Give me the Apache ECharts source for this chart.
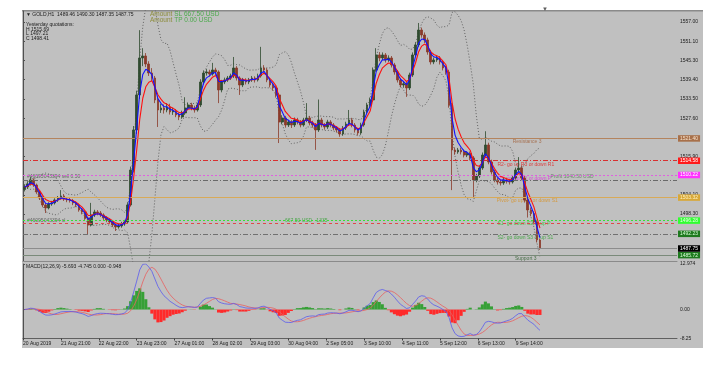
<!DOCTYPE html>
<html><head><meta charset="utf-8">
<script src="https://cdn.jsdelivr.net/npm/echarts@6/dist/echarts.min.js"></script>
<style>html,body{margin:0;padding:0;background:#fff;}#c{width:717px;height:369px;}</style>
</head><body><div id="c"></div>
<script>
// ---------- DATA ----------
const dateLabels = ['20 Aug 2019','21 Aug 21:00','22 Aug 22:00','23 Aug 23:00','27 Aug 01:00','28 Aug 02:00','29 Aug 03:00','30 Aug 04:00','2 Sep 05:00','3 Sep 10:00','4 Sep 11:00','5 Sep 12:00','6 Sep 13:00','9 Sep 14:00'];
const dateTickHours = [0,25,50,75,100,125,150,175,200,225,250,275,300,325];
const priceTicks = [1557.00,1551.10,1545.30,1539.40,1533.50,1527.60,1515.90,1504.10,1498.30];
const macdTicks = [12.974,0,-8.25];
const macdTickLabels = ['12.974','0.00','-8.25'];
// candles, one per 2 hours: [open, close, low, high]
const ohlc = [
[1505.80,1506.56,1505.20,1507.40],[1506.56,1507.48,1506.00,1508.30],[1507.48,1508.70,1507.00,1509.60],[1508.70,1507.17,1506.60,1509.20],
[1507.17,1505.03,1504.50,1507.60],[1505.03,1503.20,1502.60,1505.50],[1503.20,1501.06,1500.40,1503.70],[1501.06,1500.14,1498.60,1501.60],
[1500.14,1501.36,1499.70,1501.90],[1501.36,1501.67,1500.80,1502.30],[1501.67,1502.59,1501.20,1503.10],[1502.59,1503.20,1502.00,1503.80],
[1503.20,1503.81,1502.70,1505.60],[1503.81,1502.89,1502.30,1504.40],[1502.89,1502.59,1501.90,1503.50],[1502.59,1502.40,1501.80,1503.20],
[1502.40,1501.67,1501.00,1502.90],[1501.67,1501.06,1500.40,1502.20],[1501.06,1499.53,1499.00,1501.50],[1499.53,1498.92,1498.20,1500.10],
[1498.92,1497.08,1496.50,1499.40],[1497.08,1494.94,1491.90,1497.50],[1494.94,1498.00,1494.50,1501.70],[1498.00,1498.92,1497.40,1499.60],
[1498.92,1498.61,1497.90,1499.50],[1498.61,1498.00,1497.40,1499.20],[1498.00,1497.08,1496.50,1498.50],[1497.08,1496.47,1495.80,1497.60],
[1496.47,1495.86,1495.20,1497.00],[1495.86,1494.94,1494.30,1496.40],[1494.94,1494.33,1493.10,1495.50],[1494.33,1494.64,1493.80,1495.30],
[1494.64,1495.25,1494.10,1495.90],[1495.25,1495.86,1494.70,1496.50],[1495.86,1501.06,1495.30,1501.90],[1501.06,1511.76,1500.60,1512.80],
[1511.76,1523.99,1511.00,1525.20],[1523.99,1534.69,1522.80,1536.00],[1534.69,1546.00,1533.50,1554.50],[1546.00,1546.61,1543.50,1549.00],
[1546.61,1544.16,1543.20,1547.50],[1544.16,1541.41,1540.50,1545.00],[1541.41,1539.88,1538.90,1542.90],[1539.88,1533.16,1532.20,1540.50],
[1533.16,1530.10,1524.90,1534.00],[1530.10,1530.71,1529.20,1532.00],[1530.71,1530.10,1529.00,1531.80],[1530.10,1531.02,1529.40,1532.20],
[1531.02,1529.49,1528.70,1532.00],[1529.49,1529.80,1528.60,1530.80],[1529.80,1528.57,1527.90,1530.40],[1528.57,1527.96,1527.00,1529.20],
[1527.96,1529.18,1527.40,1529.90],[1529.18,1530.71,1528.60,1534.00],[1530.71,1531.63,1530.00,1532.40],[1531.63,1530.71,1530.00,1532.30],
[1530.71,1530.10,1529.30,1531.40],[1530.10,1531.63,1529.60,1532.30],[1531.63,1538.66,1531.00,1539.50],[1538.66,1541.41,1537.90,1542.20],
[1541.41,1541.72,1540.60,1542.60],[1541.72,1541.11,1540.30,1542.40],[1541.11,1542.33,1540.60,1544.50],[1542.33,1541.72,1540.80,1543.00],
[1541.72,1536.22,1532.20,1542.20],[1536.22,1538.66,1535.50,1539.30],[1538.66,1539.27,1538.00,1540.00],[1539.27,1539.88,1538.70,1540.50],
[1539.88,1540.50,1539.30,1541.20],[1540.50,1542.94,1539.90,1546.30],[1542.94,1539.88,1539.10,1543.50],[1539.88,1537.74,1534.70,1540.40],
[1537.74,1539.27,1537.10,1539.90],[1539.27,1538.66,1537.90,1539.80],[1538.66,1539.27,1538.00,1539.90],[1539.27,1539.88,1538.70,1540.50],
[1539.88,1539.27,1538.50,1540.40],[1539.27,1540.50,1538.80,1541.20],[1540.50,1542.94,1540.00,1549.40],[1542.94,1542.33,1541.50,1543.80],
[1542.33,1539.27,1538.60,1542.90],[1539.27,1537.74,1537.00,1539.90],[1537.74,1536.83,1536.00,1538.30],[1536.83,1534.69,1533.90,1537.40],
[1534.69,1526.43,1520.00,1535.30],[1526.43,1527.66,1525.70,1528.50],[1527.66,1525.51,1524.70,1528.30],[1525.51,1526.43,1524.90,1527.10],
[1526.43,1525.51,1524.60,1527.00],[1525.51,1527.04,1524.90,1527.80],[1527.04,1526.43,1525.70,1527.70],[1526.43,1525.51,1524.80,1527.00],
[1525.51,1527.04,1525.00,1527.70],[1527.04,1527.66,1526.40,1532.20],[1527.66,1526.13,1525.40,1528.30],[1526.13,1525.51,1524.70,1526.80],
[1525.51,1523.99,1517.90,1526.10],[1523.99,1527.04,1523.40,1533.30],[1527.04,1525.51,1524.80,1527.70],[1525.51,1524.90,1524.10,1526.10],
[1524.90,1526.43,1524.30,1527.10],[1526.43,1525.51,1524.80,1527.00],[1525.51,1524.60,1523.90,1526.10],[1524.60,1523.99,1523.20,1525.20],
[1523.99,1522.76,1521.90,1524.60],[1522.76,1524.60,1522.20,1525.20],[1524.60,1525.82,1524.00,1526.50],[1525.82,1527.04,1525.20,1530.10],
[1527.04,1525.51,1524.80,1527.70],[1525.51,1523.99,1523.20,1526.10],[1523.99,1523.07,1522.30,1524.60],[1523.07,1525.51,1522.50,1526.20],
[1525.51,1529.49,1525.00,1530.20],[1529.49,1531.63,1528.90,1532.30],[1531.63,1533.16,1531.00,1533.90],[1533.16,1542.33,1532.60,1543.10],
[1542.33,1546.92,1541.80,1549.00],[1546.92,1546.00,1545.00,1547.80],[1546.00,1546.92,1545.40,1547.70],[1546.92,1545.39,1544.60,1547.50],
[1545.39,1546.00,1544.80,1546.80],[1546.00,1543.86,1543.10,1546.60],[1543.86,1541.72,1540.90,1544.50],[1541.72,1539.27,1538.50,1542.30],
[1539.27,1537.74,1537.00,1539.90],[1537.74,1538.10,1536.90,1538.80],[1538.10,1536.83,1534.10,1538.70],[1536.83,1540.80,1536.20,1541.50],
[1540.80,1546.92,1540.20,1547.70],[1546.92,1549.97,1546.30,1550.80],[1549.97,1554.56,1549.30,1556.70],[1554.56,1553.03,1552.20,1555.30],
[1553.03,1551.50,1550.60,1553.80],[1551.50,1547.83,1547.00,1552.20],[1547.83,1544.78,1544.00,1548.50],[1544.78,1545.39,1544.10,1546.10],
[1545.39,1546.00,1544.80,1546.70],[1546.00,1544.78,1544.00,1546.60],[1544.78,1542.94,1542.20,1545.40],[1542.94,1541.72,1540.90,1543.60],
[1541.72,1531.63,1530.80,1542.40],[1531.63,1517.87,1505.60,1532.30],[1517.87,1517.26,1516.40,1518.60],[1517.26,1517.87,1516.70,1518.50],
[1517.87,1517.26,1516.50,1518.60],[1517.26,1516.34,1515.60,1518.00],[1516.34,1516.80,1515.70,1517.50],[1516.80,1515.43,1514.70,1517.40],
[1515.43,1508.70,1503.50,1516.00],[1508.70,1509.92,1508.00,1510.60],[1509.92,1512.37,1509.30,1513.10],[1512.37,1516.34,1511.80,1517.10],
[1516.34,1519.40,1515.80,1523.60],[1519.40,1514.20,1513.50,1520.10],[1514.20,1511.15,1510.40,1514.90],[1511.15,1508.70,1508.00,1511.80],
[1508.70,1508.09,1507.30,1509.40],[1508.09,1507.78,1507.00,1508.80],[1507.78,1508.70,1507.20,1509.40],[1508.70,1508.30,1507.60,1509.40],
[1508.30,1508.09,1507.30,1509.00],[1508.09,1509.31,1507.60,1510.10],[1509.31,1511.76,1508.80,1512.50],[1511.76,1512.37,1511.00,1515.69],
[1512.37,1509.31,1508.60,1513.10],[1509.31,1502.59,1501.80,1510.00],[1502.59,1499.53,1497.21,1503.20],[1499.53,1498.41,1497.60,1500.30],
[1498.41,1495.86,1495.10,1499.10],[1495.86,1490.36,1489.60,1496.50],[1490.36,1487.75,1487.35,1490.80]
];
const levelNames = ['Resistance 3','R2- go up R3 or down R1','R1- go up R2 or down P','Pivot- go up R1 or down S1','S1- go down S2 or up P','S2- go down S3 or up S1','Support 3'];
const levelPrices = [1521.40,1514.58,1510.22,1503.32,1496.28,1492.23,1485.72];
const levelTextHours = [323,313,313,312.5,313,313,324.5];
const bidPrice = 1487.75;
const orderPrice = 1508.70;
const slPrice = 1495.35;
const orderTexts = ['#46095043394 sell 0.50','#46095043394 sl','Profit 1040.50 USD','667.50 USD   1335'];
const orderTextHours = [2.6,2.6,348,172.8];
const headerTexts = ['\u25BC GOLD,H1  1489.46 1490.30 1487.35 1487.75','Yesterday quotations:','H 1515.69','L 1497.21','C 1498.41'];
const amountTexts = ['SL 667.50 USD','TP 0.00 USD'];
const macdTitle = 'MACD(12,26,9) -5.693 -4.745 0.000 -0.948';

// ---------- INDICATORS (derived from the candles) ----------
const hours = ohlc.map((r,i)=>2*i+1);
const closes = ohlc.map(r=>r[1]);
function ema(a,n){const k=2/(n+1);const o=[];let p=a[0];a.forEach((v,i)=>{p=i?k*v+(1-k)*p:v;o.push(p);});return o;}
function sma(a,n){return a.map((v,i)=>{const s=a.slice(Math.max(0,i-n+1),i+1);return s.reduce((x,y)=>x+y,0)/s.length;});}
function std(a,n){return a.map((v,i)=>{const s=a.slice(Math.max(0,i-n+1),i+1);const m=s.reduce((x,y)=>x+y,0)/s.length;return Math.sqrt(s.reduce((x,y)=>x+(y-m)*(y-m),0)/s.length);});}
const maFast = ema(closes,3), maSlow = ema(closes,5);
const bbMid = sma(closes,10), bbSd = std(closes,10);
const bbUp = bbMid.map((m,i)=>m+2*bbSd[i]), bbLo = bbMid.map((m,i)=>m-2*bbSd[i]);
const e1 = ema(closes,6), e2 = ema(closes,13);
const macd = e1.map((v,i)=>v-e2[i]);
const signal = sma(macd,5);
const hist = macd.map((v,i)=>v-signal[i]);
const pair = a => a.map((v,i)=>[hours[i],v]);

// ---------- STYLES ----------
const F = 'Liberation Sans';
const levelStyle = [
 {line:'#b4845e',type:'solid',box:'#a8704a',txt:'#f6e2cc',text:'#a0603a'},
 {line:'#d83030',type:[5,2,1,2],box:'#ff1a1a',txt:'#ffffff',text:'#e02020'},
 {line:'#e060e0',type:[2,2],box:'#ff30ff',txt:'#ffffff',text:'#e030e0'},
 {line:'#d8aa58',type:'solid',box:'#d8a838',txt:'#fff2c0',text:'#d89020'},
 {line:'#38e038',type:[2,2],box:'#30ff30',txt:'#e8ffe8',text:'#30c030'},
 {line:'#707070',type:[5,2,1,2],box:'#1f7a1f',txt:'#d8ffd8',text:'#30a030'},
 {line:'#7a8a7a',type:'solid',box:'#1f7a1f',txt:'#d8ffd8',text:'#2a5a2a'}
];
const boxLabel = (txt,bg,fg)=>({show:true,position:'end',distance:1,formatter:txt,backgroundColor:bg,color:fg,fontSize:5,fontFamily:F,padding:[1,2,0.5,2]});
const markData = levelPrices.map((p,i)=>({yAxis:p,lineStyle:{color:levelStyle[i].line,type:levelStyle[i].type,width:1},label:boxLabel(p.toFixed(2),levelStyle[i].box,levelStyle[i].txt)}));
markData.push({yAxis:orderPrice,lineStyle:{color:'#6a6a6a',type:[5,2,1,2],width:1},label:{show:false}});
markData.push({yAxis:slPrice,lineStyle:{color:'#e04848',type:[3,3],width:1},label:{show:false}});
markData.push({yAxis:bidPrice,lineStyle:{color:'#8c8c8c',type:'solid',width:1},label:boxLabel(bidPrice.toFixed(2),'#000000','#ffffff')});

const annData = levelNames.map((t,i)=>({value:[levelTextHours[i],levelPrices[i]],label:{formatter:t,color:levelStyle[i].text}}));
const orderPrices = [orderPrice,slPrice,orderPrice,slPrice];
const orderColors = ['#505050','#505050','#5a7a5a','#30a030'];
orderTexts.forEach((t,i)=>annData.push({value:[orderTextHours[i],orderPrices[i]],label:{formatter:t,color:orderColors[i],offset:[0,-3.5]}}));

const X_MAX = 431.4;
const graphics = [
 {type:'rect',shape:{x:22,y:10,width:681,height:338},style:{fill:'#c0c0c0'},z:-10,silent:true},
 {type:'rect',shape:{x:22,y:10,width:681,height:1.5},style:{fill:'#8a8a8a'},z:-9,silent:true},
 {type:'text',x:545,y:9,style:{text:'\u25BC',fill:'#606060',font:'6px '+F,align:'center',verticalAlign:'middle'},z:50}
];
const hy = [15,25,29.7,34,38.3];
headerTexts.forEach((t,i)=>graphics.push({type:'text',x:26,y:hy[i],style:{text:t,fill:'#202020',font:'5px '+F,verticalAlign:'middle'},z:50}));
[14.3,20.7].forEach((y,i)=>graphics.push({type:'text',x:150,y:y,style:{text:'Amount {g|'+amountTexts[i]+'}',fill:'#8c8c3c',font:'6.5px '+F,verticalAlign:'middle',rich:{g:{fill:'#4caa4c',font:'6.5px '+F}}},z:50}));
graphics.push({type:'text',x:26,y:266.5,style:{text:macdTitle,fill:'#202020',font:'5px '+F,verticalAlign:'middle'},z:50});

const chart = echarts.init(document.getElementById('c'),null,{renderer:'canvas'});
chart.setOption({
 animation:false,
 backgroundColor:'#ffffff',
 textStyle:{fontFamily:F},
 graphic:graphics,
 grid:[{left:23,top:11,width:654,height:250},{left:23,top:264,width:654,height:74.5}],
 xAxis:[
  {type:'value',gridIndex:0,min:0,max:X_MAX,axisLine:{show:true,onZero:false,lineStyle:{color:'#8a8a8a'}},axisTick:{show:false},axisLabel:{show:false},splitLine:{show:false}},
  {type:'value',gridIndex:1,min:0,max:X_MAX,axisLine:{show:true,onZero:false,lineStyle:{color:'#606060'}},
   axisTick:{show:true,length:2,customValues:dateTickHours,lineStyle:{color:'#404040'}},
   axisLabel:{customValues:dateTickHours,formatter:v=>dateLabels[Math.round(v/25)]||'',align:'left',fontSize:5,color:'#202020',margin:3,fontFamily:F},splitLine:{show:false}}
 ],
 yAxis:[
  {type:'value',gridIndex:0,position:'right',min:1483.93,max:1560.36,axisLine:{show:true,lineStyle:{color:'#505050'}},
   axisTick:{show:true,length:2,customValues:priceTicks,lineStyle:{color:'#505050'}},
   axisLabel:{customValues:priceTicks,formatter:v=>v.toFixed(2),fontSize:5,color:'#202020',margin:3,fontFamily:F},splitLine:{show:false}},
  {type:'value',gridIndex:1,position:'right',min:-8.25,max:12.974,axisLine:{show:true,lineStyle:{color:'#505050'}},
   axisTick:{show:true,length:2,customValues:macdTicks,lineStyle:{color:'#505050'}},
   axisLabel:{customValues:macdTicks,formatter:v=>macdTickLabels[macdTicks.indexOf(v)]||'',fontSize:5,color:'#202020',margin:3,fontFamily:F},splitLine:{show:false}}
 ],
 series:[
  {type:'line',xAxisIndex:0,yAxisIndex:0,data:[],z:1,markLine:{silent:true,symbol:['none','none'],animation:false,data:markData}},
  {type:'scatter',xAxisIndex:0,yAxisIndex:0,z:1,symbolSize:0,silent:true,data:annData,
   label:{show:true,position:'right',distance:0,offset:[0,3.5],fontSize:5,fontFamily:F}},
  {type:'line',xAxisIndex:0,yAxisIndex:0,data:pair(bbUp),symbol:'none',z:2,lineStyle:{color:'#4a4a4a',width:0.8,type:[1,2]}},
  {type:'line',xAxisIndex:0,yAxisIndex:0,data:pair(bbLo),symbol:'none',z:2,lineStyle:{color:'#4a4a4a',width:0.8,type:[1,2]}},
  {type:'candlestick',xAxisIndex:0,yAxisIndex:0,z:3,barWidth:2.2,
   dimensions:['t','open','close','lowest','highest'],encode:{x:0,y:[1,2,3,4]},
   data:ohlc.map((r,i)=>[hours[i],r[0],r[1],r[2],r[3]]),
   itemStyle:{color:'#2f4a2f',color0:'#8a3a2a',borderColor:'#2f4a2f',borderColor0:'#8a3a2a',borderWidth:0.8}},
  {type:'line',xAxisIndex:0,yAxisIndex:0,data:pair(maSlow),symbol:'none',z:4,lineStyle:{color:'#ff1010',width:1.1}},
  {type:'line',xAxisIndex:0,yAxisIndex:0,data:pair(maFast),symbol:'none',z:5,lineStyle:{color:'#1010ff',width:1.1}},
  {type:'bar',xAxisIndex:1,yAxisIndex:1,data:pair(hist),barWidth:3.1,z:2,
   itemStyle:{color:p=>p.value[1]>=0?'#36a036':'#ff2a2a'}},
  {type:'line',xAxisIndex:1,yAxisIndex:1,data:pair(signal),symbol:'none',z:3,lineStyle:{color:'#e86060',width:0.8}},
  {type:'line',xAxisIndex:1,yAxisIndex:1,data:pair(macd),symbol:'none',z:4,lineStyle:{color:'#5a5aee',width:0.8}}
 ]
});
</script></body></html>
